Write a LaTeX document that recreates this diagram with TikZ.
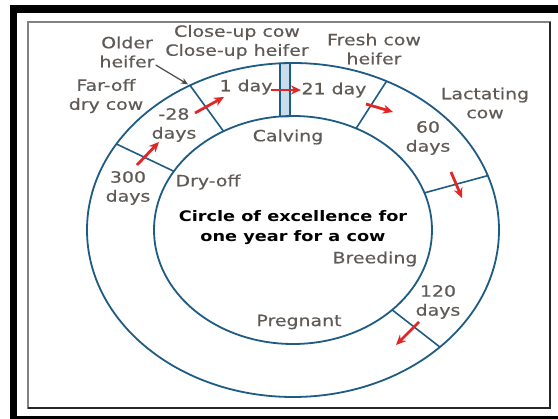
\documentclass[tikz,border=0pt]{standalone}
\usepackage{fontspec}
\usetikzlibrary{arrows.meta}
\newfontfamily\lblfont[FakeStretch=1.22, FakeBold=0.35]{DejaVu Sans}
\newfontfamily\ttlfont[FakeStretch=1.22]{DejaVu Sans}
\definecolor{ringC} {RGB}{ 30,  92, 132}
\definecolor{paleC} {RGB}{200, 222, 236}
\definecolor{textC} {RGB}{ 95,  90,  85}
\definecolor{flowC} {RGB}{226,  38,  38}
\definecolor{frameC}{RGB}{130, 130, 130}
\tikzset{
  ring/.style    = {draw=ringC, line width=1.8pt},
  divider/.style = {draw=ringC, line width=1.6pt},
  flow/.style    = {-{Stealth[length=10pt, width=9pt]}, draw=flowC, line width=2.8pt},
  pointer/.style = {-{Stealth[length=7pt, width=6pt]}, draw=textC!80!black, line width=1.2pt},
  lbl/.style     = {text=textC, align=center, inner sep=1pt,
                    font=\lblfont\fontsize{15.5}{19}\selectfont},
  ttl/.style     = {text=black, align=center, inner sep=1pt,
                    font=\ttlfont\bfseries\fontsize{14.5}{20}\selectfont},
}

\begin{document}
\begin{tikzpicture}[x=1pt, y=-1pt]

% ---- Page and frame ---------------------------------------------------------
\useasboundingbox (0,0) rectangle (558,419);
\fill[white] (0,0) rectangle (558,419);
\fill[black] (10,5) rectangle (558,13);
\fill[black] (10,5) rectangle (17,419);
\fill[black] (10,416) rectangle (558,419);
\draw[frameC, line width=2.5pt] (28,22) rectangle (550,408);
\draw[black!85, line width=2pt] (28,408) -- (550,408) -- (550,22);

% ---- Rings ------------------------------------------------------------------
\def\cx{293}   % centre
\def\cy{230}
\def\Rx{206}   % outer radii
\def\Ry{167}
\def\rx{139}   % inner radii
\def\ry{114}

% calving band (double line)
\fill[paleC] (281,62) rectangle (289,118);
\draw[divider] (280,63) -- (280,117);
\draw[divider] (290,63) -- (290,117);

\draw[ring] (\cx,\cy) ellipse [x radius=\Rx pt, y radius=\Ry pt];
\draw[ring] (\cx,\cy) ellipse [x radius=\rx pt, y radius=\ry pt];

% radial dividers
\foreach \t in {120, 149, 63, 19, -44.5}
  \draw[divider] ({\cx+\rx*cos(\t)}, {\cy-\ry*sin(\t)})
              -- ({\cx+\Rx*cos(\t)}, {\cy-\Ry*sin(\t)});

% ---- Labels -----------------------------------------------------------------
\node[lbl] (closeup)   at (237, 42)  {Close-up cow\\Close-up heifer};
\node[lbl] (older)     at (127, 52)  {Older\\heifer};
\node[lbl] (faroff)    at (106, 96)  {Far-off\\dry cow};
\node[lbl] (minus28)   at (174,125)  {-28\\days};
\node[lbl] (oneday)    at (246, 87)  {1 day};
\node[lbl] (calving)   at (288,137)  {Calving};
\node[lbl] (days300)   at (128,188)  {300\\days};
\node[lbl] (dryoff)    at (208,182)  {Dry-off};
\node[lbl] (day21)     at (334, 90)  {21 day};
\node[lbl] (fresh)     at (374, 49)  {Fresh cow\\heifer};
\node[lbl] (lactating) at (485,103)  {Lactating\\cow};
\node[lbl] (days60)    at (428,138)  {60\\days};
\node[ttl] (title)     at (293,228)  {Circle of excellence for\\one year for a cow};
\node[lbl] (breeding)  at (375,259)  {Breeding};
\node[lbl] (days120)   at (438,302)  {120\\days};
\node[lbl] (pregnant)  at (299,322)  {Pregnant};

% ---- Arrows -----------------------------------------------------------------
\coordinate (heiferTip) at ({\cx+\Rx*cos(120)}, {\cy-\Ry*sin(120)});
\draw[pointer] ([yshift=-13pt]older.east) -- ([shift={(-2pt,1pt)}]heiferTip);

\draw[flow] (137,165) -- (159,142);
\draw[flow] (195,113) -- (224,97);
\draw[flow] (271,90)  -- (301,90);
\draw[flow] (366,104) -- (393,112);
\draw[flow] (451,172) -- (462,198);
\draw[flow] (419,322) -- (396,345);

\end{tikzpicture}
\end{document}
